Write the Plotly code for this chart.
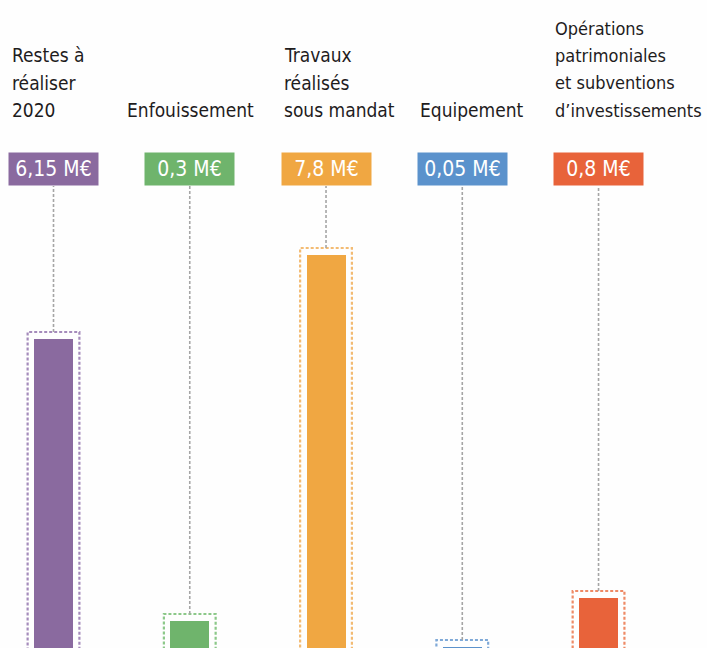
import plotly.graph_objects as go

# ---- data ----
categories = ["Restes à réaliser 2020", "Enfouissement", "Travaux réalisés sous mandat",
              "Equipement", "Opérations patrimoniales et subventions d’investissements"]
label_lines = [["Restes à", "réaliser", "2020"], ["Enfouissement"],
               ["Travaux", "réalisés", "sous mandat"], ["Equipement"],
               ["Opérations", "patrimoniales", "et subventions", "d’investissements"]]
values_meur = [6.15, 0.3, 7.8, 0.05, 0.8]           # amounts shown in the tags (M€)
bar_heights = [309, 27, 393, 1, 50]                  # visible bar heights as drawn (panel units)
colors = ["#8a6a9f", "#6fb46c", "#f0a742", "#5b92cc", "#e8633a"]
outline_colors = ["#a58bbb", "#8cc889", "#f3bb73", "#7fa9d8", "#ee8a66"]
label_anchor = ["left", "center", "left", "left", "left"]
label_size = [19, 19, 19, 19, 18]
label_shift = [-44, 1, -44, -44, -46]

FONT = "DejaVu Sans Condensed, DejaVu Sans, sans-serif"
W, H = 707, 648
n = len(categories)
idx = list(range(n))

fig = go.Figure()
fig.add_trace(go.Bar(x=idx, y=bar_heights, marker=dict(color=colors, line=dict(width=0)),
                     width=0.286, hoverinfo="skip"))

shapes = []
annotations = []
LINE_H = 27.3
for i in idx:
    top = bar_heights[i] + 7
    shapes.append(dict(type="rect", xref="x", yref="y", x0=i - 0.19, x1=i + 0.19, y0=-30, y1=top,
                       line=dict(color=outline_colors[i], width=2.2, dash="3px,2px")))
    shapes.append(dict(type="line", xref="x", yref="y", x0=i, x1=i, y0=top, y1=H - 186,
                       line=dict(color="#a5a5a5", width=1.6, dash="3px,2px")))
    txt = f"{values_meur[i]:g}".replace(".", ",") + " M€"
    annotations.append(dict(x=i, y=H - 168.5, xref="x", yref="y", text=txt, showarrow=False,
                            bgcolor=colors[i], width=89, height=32, borderpad=0,
                            font=dict(family=FONT, size=21, color="white"),
                            xanchor="center", yanchor="middle"))
    lines = label_lines[i]
    for k, line in enumerate(lines):
        row_from_bottom = len(lines) - 1 - k
        yc = 110 - LINE_H * row_from_bottom
        annotations.append(dict(x=i, y=H - yc, xref="x", yref="y", text=line,
                                showarrow=False, xanchor=label_anchor[i], yanchor="middle",
                                align=label_anchor[i], xshift=label_shift[i],
                                font=dict(family=FONT, size=label_size[i], color="#1e1c1d")))

fig.update_layout(
    width=W, height=H, margin=dict(l=0, r=0, t=0, b=0),
    paper_bgcolor="#fefefe", plot_bgcolor="#fefefe",
    showlegend=False, shapes=shapes, annotations=annotations,
    xaxis=dict(range=[-0.3927, 4.796], visible=False, fixedrange=True),
    yaxis=dict(range=[0, H], visible=False, fixedrange=True),
    bargap=0,
)
fig.write_html("out.html", post_script="document.body.style.margin='0px';",
               config={"displayModeBar": False})
